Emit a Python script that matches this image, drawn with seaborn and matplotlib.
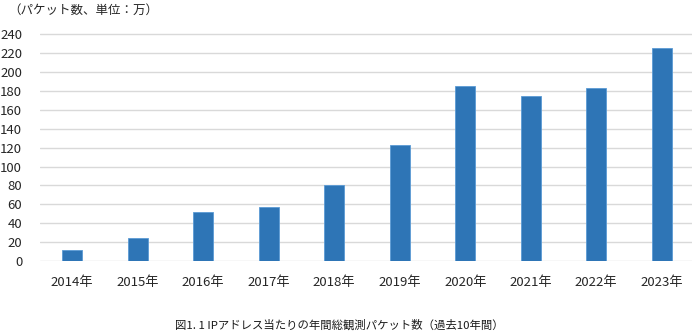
import matplotlib
matplotlib.use("Agg")
import matplotlib.pyplot as plt
import seaborn as sns
import pandas as pd

years = ["2014年", "2015年", "2016年", "2017年", "2018年", "2019年", "2020年", "2021年", "2022年", "2023年"]
packets = [11.3, 24, 52, 57.5, 80, 123, 185, 175, 183.5, 225.5]
yticks = [0, 20, 40, 60, 80, 100, 120, 140, 160, 180, 200, 220, 240]

sns.set_theme(style="white")
plt.rcParams['font.family'] = ['Noto Sans CJK JP', 'DejaVu Sans']

W, H = 692, 336
fig = plt.figure(figsize=(W / 100, H / 100), dpi=100)
left_px, right_px = 39.5, 694.5
y0_px = 261.0
ppu = (261 - 34.3) / 240
ytop = 241
top_px = y0_px - ytop * ppu
ax = fig.add_axes([left_px / W, (H - y0_px) / H, (right_px - left_px) / W, (y0_px - top_px) / H])

df = pd.DataFrame({"year": years, "packets": packets})
sns.barplot(data=df, x="year", y="packets", color="#2E75B6", width=0.31,
            edgecolor="#5B9BD5", linewidth=0.6, saturation=1, ax=ax, zorder=3)

ax.set_xlim(-0.5, len(years) - 0.5)
ax.set_ylim(0, ytop)
ax.set_yticks(yticks)
ax.set_yticklabels([str(v) for v in yticks])
ax.grid(axis="y", color="#D9D9D9", linewidth=1.0, zorder=0)
ax.grid(axis="x", visible=False)
for s in ax.spines.values():
    s.set_visible(False)
ax.set_xlabel("")
ax.set_ylabel("")
ax.tick_params(axis="y", length=0, pad=12.5, labelsize=9.5, labelcolor="#262626")
ax.tick_params(axis="x", length=0, pad=11, labelsize=9.5, labelcolor="#262626")

fig.text(8 / W, 1 - 10 / H, "（パケット数、単位：万）", fontsize=9, color="#262626",
         ha="left", va="center")
fig.text(339 / W, 1 - 325 / H, "図1. 1 IPアドレス当たりの年間総観測パケット数（過去10年間）",
         fontsize=8.2, color="#1a1a1a", ha="center", va="center")

fig.savefig("out.png", dpi=100)
